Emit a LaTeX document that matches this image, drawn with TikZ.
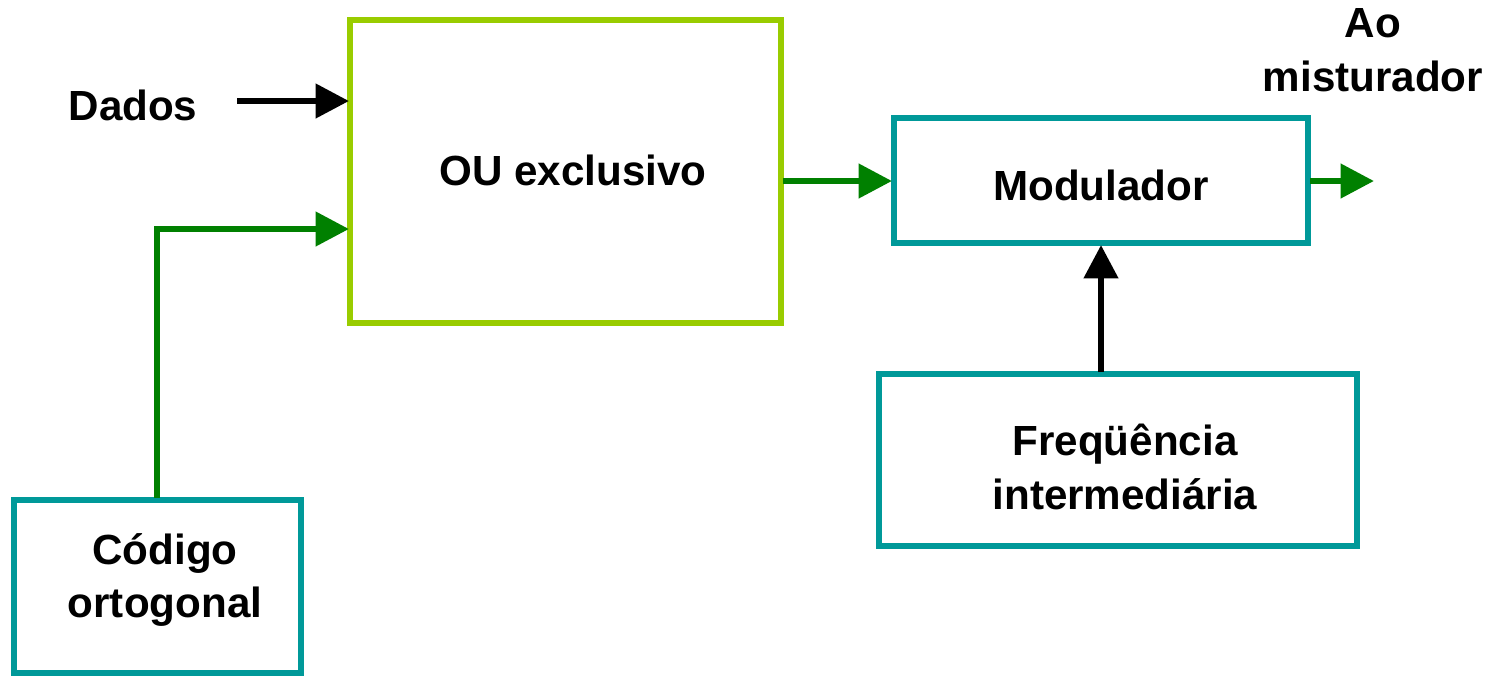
\documentclass[tikz,border=0pt]{standalone}
\usepackage{fontspec}
\setmainfont{Liberation Sans}
\usetikzlibrary{arrows.meta}
\definecolor{lime}{HTML}{99CC00}
\definecolor{teal}{HTML}{009999}
\definecolor{dgreen}{HTML}{008000}
\begin{document}
\begin{tikzpicture}[x=0.02cm,y=-0.02cm,
  lbl/.style={font=\fontsize{24}{30.6}\selectfont\bfseries, align=center, text=black},
  blk/.style={draw=#1, line width=3pt, inner sep=0pt},
  arr/.style={draw=#1, line width=3.6pt, -{Triangle[length=19pt,width=19pt]}}]
\useasboundingbox (0,0) rectangle (1492,677);
% boxes
\draw[blk=lime] (350,20) rectangle (781,323);
\draw[blk=teal] (894,118) rectangle (1308,243);
\draw[blk=teal] (879,374) rectangle (1357,546);
\draw[blk=teal] (14,500) rectangle (301,673);
% anchors
\coordinate (xorW1) at (349,101);
\coordinate (xorW2) at (349,229);
\coordinate (xorE) at (783,181);
\coordinate (modW) at (892,181);
\coordinate (modE) at (1310,181);
\coordinate (modS) at (1101,245);
\coordinate (freqN) at (1101,372);
\coordinate (codN) at (157,498);
\coordinate (bend) at (157,229);
\coordinate (dadosE) at (237,101);
\coordinate (out) at (1374,181);
% labels
\node[lbl] (dados) at (133,105) {Dados};
\node[lbl] (xor) at (573,170) {OU exclusivo};
\node[lbl] (mod) at (1101,185) {Modulador};
\node[lbl] (freq) at (1125,467) {Freqüência\\intermediária};
\node[lbl] (cod) at (165,580) {Código\\ortogonal};
\node[lbl] (mix) at (1373,50) {Ao\\misturador};
% connectors
\draw[arr=black] (dadosE) -- (xorW1);
\draw[arr=dgreen] (codN) -- (bend) -- (xorW2);
\draw[arr=dgreen] (xorE) -- (modW);
\draw[arr=dgreen] (modE) -- (out);
\draw[arr=black] (freqN) -- (modS);
\end{tikzpicture}
\end{document}
